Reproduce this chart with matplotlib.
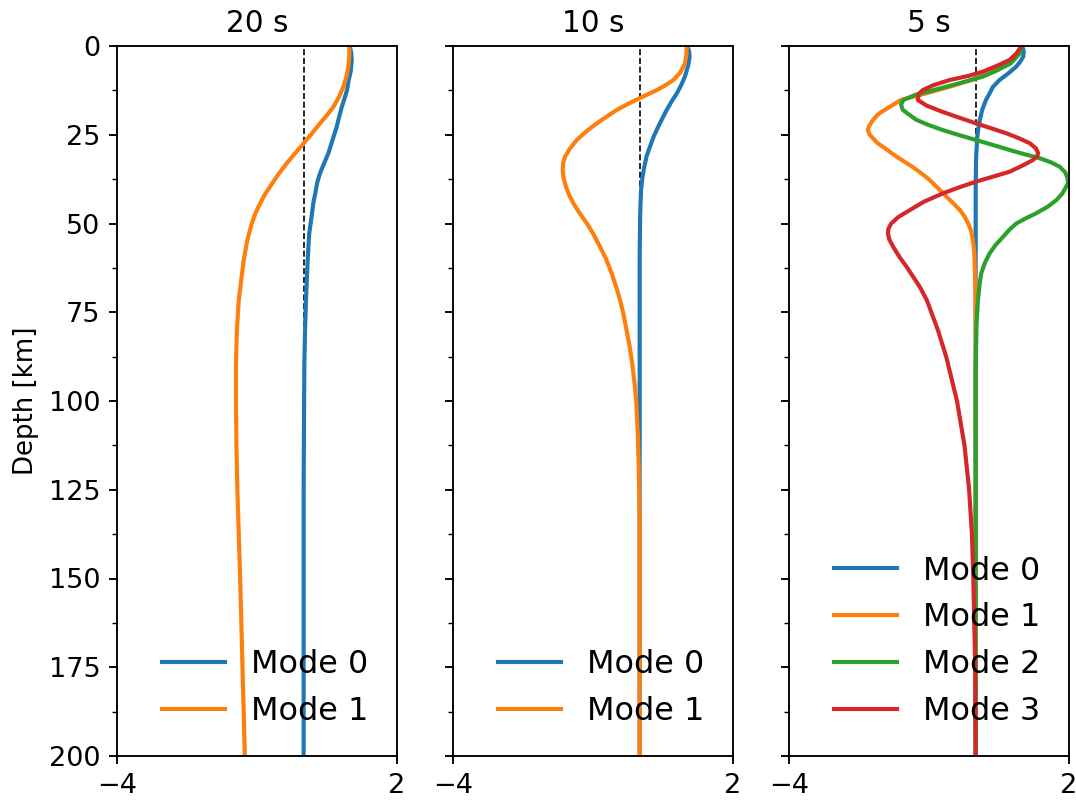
import matplotlib
matplotlib.use('Agg')
import matplotlib.pyplot as plt
from matplotlib.ticker import MultipleLocator

## Eigenfunctions (depth in km, normalised amplitude)

periods = ['20 s', '10 s', '5 s']

# 20 s
depth_20_m0 = [0, 2, 4, 7, 10, 12.4, 15, 17.5, 20, 22.7, 26, 30.2, 33, 35.9, 38.5, 41.5, 44, 47.1, 52.8, 57, 62.2,
               71.5, 80, 90, 100, 125, 200]
amp_20_m0 = [0.99, 1.02, 1.03, 1.01, 0.96, 0.93, 0.87, 0.81, 0.76, 0.71, 0.63, 0.53, 0.44, 0.35, 0.29, 0.25, 0.21,
             0.18, 0.12, 0.10, 0.08, 0.05, 0.03, 0.015, 0.01, 0.0, 0.0]
depth_20_m1 = [0, 2, 4, 5.8, 8.5, 11.5, 14.3, 17.1, 19.5, 21.8, 24.6, 27.4, 30.2, 33.0, 36.3, 39.6, 42, 44.3, 47,
               50.0, 52.8, 55.6, 60, 64.1, 71.6, 80, 90, 100, 112.5, 125, 150, 175, 200]
amp_20_m1 = [0.98, 0.98, 0.97, 0.96, 0.92, 0.85, 0.76, 0.64, 0.50, 0.35, 0.18, 0.0, -0.18, -0.36, -0.55, -0.72,
             -0.84, -0.93, -1.03, -1.11, -1.17, -1.22, -1.28, -1.32, -1.39, -1.43, -1.45, -1.45, -1.44, -1.42, -1.36,
             -1.31, -1.26]

# 10 s
depth_10_m0 = [0, 1.5, 3, 5.5, 8.6, 11, 13.3, 15.5, 18, 20.3, 22.7, 25.5, 28.4, 31, 34, 37, 40.6, 44, 48, 60, 200]
amp_10_m0 = [1.02, 1.06, 1.07, 1.04, 0.97, 0.89, 0.80, 0.69, 0.58, 0.49, 0.40, 0.30, 0.22, 0.15, 0.10, 0.06, 0.03,
             0.02, 0.01, 0.0, 0.0]
depth_10_m1 = [0, 2.5, 4.9, 7.5, 9.6, 11, 12.4, 14.7, 16.3, 18, 20, 21.8, 24, 26.5, 29, 31.2, 33, 35, 37.3, 39.6,
               42, 44.3, 47, 50, 53, 56.5, 60, 64, 68, 71.5, 76, 80.8, 85, 90.3, 95, 99.7, 109, 118.5, 132.6, 200]
amp_10_m1 = [1.01, 1.0, 0.97, 0.87, 0.72, 0.56, 0.37, 0.0, -0.25, -0.49, -0.72, -0.92, -1.14, -1.35, -1.50, -1.60,
             -1.64, -1.65, -1.63, -1.58, -1.51, -1.42, -1.29, -1.13, -0.99, -0.85, -0.72, -0.60, -0.50, -0.42, -0.34,
             -0.27, -0.21, -0.15, -0.11, -0.075, -0.04, -0.02, 0.0, 0.0]

# 5 s
depth_5_m0 = [0, 1.5, 3, 4.5, 5.8, 7.7, 9.6, 11.5, 13.3, 15.2, 18, 20.8, 23.7, 26.5, 31.2, 40, 200]
amp_5_m0 = [1.0, 1.03, 1.02, 0.95, 0.87, 0.70, 0.51, 0.37, 0.30, 0.22, 0.14, 0.09, 0.05, 0.03, 0.01, 0.0, 0.0]
depth_5_m1 = [0, 2, 3.9, 5.8, 7.7, 9.6, 11.5, 13.3, 15.2, 17.1, 19, 20.8, 22.7, 23.7, 25, 27.4, 29, 30.7, 32.4, 34,
              36, 37.7, 40, 42.4, 44.3, 46.2, 48, 50, 52, 54.6, 58, 62.2, 70, 200]
amp_5_m1 = [0.98, 0.92, 0.80, 0.57, 0.30, -0.10, -0.56, -1.05, -1.60, -1.84, -2.07, -2.20, -2.29, -2.31, -2.27,
            -2.10, -1.92, -1.75, -1.55, -1.36, -1.15, -0.99, -0.81, -0.63, -0.48, -0.34, -0.24, -0.16, -0.10, -0.06,
            -0.03, -0.02, 0.0, 0.0]
depth_5_m2 = [0, 2, 4.9, 6.8, 8.6, 10.5, 12.4, 13.8, 15.2, 16.5, 18, 19.4, 20.8, 22.3, 23.7, 25, 26.5, 28, 29.3,
              30.5, 31.6, 32.8, 34, 35.6, 37.3, 38.5, 39.6, 41.5, 43.4, 45.3, 47.1, 48.5, 50, 51.8, 53.7, 56, 58.4,
              61, 64, 67.5, 71.5, 78, 90, 200]
amp_5_m2 = [0.99, 0.95, 0.75, 0.47, 0.16, -0.35, -0.90, -1.30, -1.55, -1.60, -1.56, -1.42, -1.27, -1.00, -0.70,
            -0.38, 0.01, 0.40, 0.73, 1.05, 1.37, 1.62, 1.80, 1.92, 1.97, 1.98, 1.94, 1.86, 1.73, 1.54, 1.30, 1.08,
            0.87, 0.72, 0.59, 0.43, 0.30, 0.20, 0.12, 0.08, 0.05, 0.02, 0.0, 0.0]
depth_5_m3 = [0, 2, 3.9, 5.5, 7.2, 8.4, 9.6, 11, 12.4, 13.5, 15.2, 16.8, 18.5, 20.2, 21.8, 23.2, 24.6, 26, 27.4,
              28.8, 30.2, 31.2, 32.1, 33.7, 35.4, 36.8, 38.2, 39.8, 41.5, 43.8, 46.2, 48.2, 50, 51.5, 52.8, 54.5,
              56.5, 59.5, 62.2, 65, 67.8, 71.5, 75, 80, 87.6, 100, 112.5, 125, 137.5, 150, 162.5, 175, 200]
amp_5_m3 = [0.98, 0.88, 0.73, 0.47, 0.16, -0.15, -0.56, -0.90, -1.13, -1.22, -1.24, -1.05, -0.72, -0.35, 0.01,
            0.34, 0.66, 0.93, 1.16, 1.29, 1.34, 1.31, 1.23, 1.00, 0.73, 0.37, 0.01, -0.35, -0.70, -1.10, -1.41,
            -1.66, -1.81, -1.87, -1.88, -1.85, -1.77, -1.63, -1.48, -1.34, -1.20, -1.05, -0.95, -0.81, -0.63, -0.40,
            -0.24, -0.14, -0.08, -0.05, -0.03, -0.01, 0.0]

panels = [
    [(depth_20_m0, amp_20_m0), (depth_20_m1, amp_20_m1)],
    [(depth_10_m0, amp_10_m0), (depth_10_m1, amp_10_m1)],
    [(depth_5_m0, amp_5_m0), (depth_5_m1, amp_5_m1), (depth_5_m2, amp_5_m2), (depth_5_m3, amp_5_m3)],
]

## Plot

dpi = 170
fig, axes = plt.subplots(1, 3, sharey=True, figsize=(1076 / dpi, 800 / dpi), dpi=dpi)
plt.subplots_adjust(left=0.1087, right=0.9935, top=0.9425, bottom=0.055, wspace=0.2)

for ax, title, modes in zip(axes, periods, panels):
    ax.axvline(0, color='k', linestyle='--', linewidth=0.7, zorder=1)
    for m, (depth, amp) in enumerate(modes):
        ax.plot(amp, depth, linewidth=1.75, label='Mode ' + str(m), zorder=2)
    ax.set_title(title, fontsize=12.5)
    ax.set_xlim(-4, 2)
    ax.set_xticks([-4, 2])
    ax.set_ylim(200, 0)
    ax.yaxis.set_major_locator(MultipleLocator(25))
    ax.yaxis.set_minor_locator(MultipleLocator(12.5))
    ax.tick_params(labelsize=11.5)
    ax.legend(loc='lower right', frameon=False, fontsize=13.5)

axes[0].set_ylabel('Depth [km]', fontsize=11)

fig.savefig('out.png', dpi=dpi)
